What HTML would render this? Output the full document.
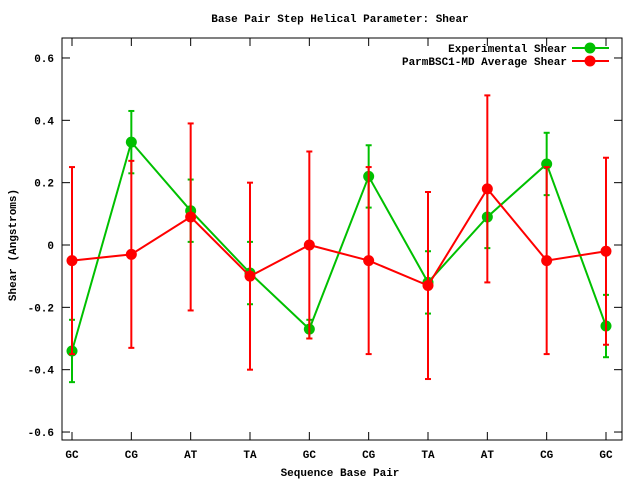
<!DOCTYPE html>
<html><head><meta charset="utf-8"><style>
body{margin:0;background:#fff}
svg text{font-family:"Liberation Mono",monospace;font-size:11px;font-weight:bold;fill:#000}
</style></head><body>
<svg id="chart" width="640" height="480">
<text x="340" y="22" text-anchor="middle">Base Pair Step Helical Parameter: Shear</text>
<text x="340" y="476" text-anchor="middle">Sequence Base Pair</text>
<text transform="translate(16,245) rotate(-90)" text-anchor="middle">Shear (Angstroms)</text>
<rect x="62" y="38" width="560" height="402" fill="none" stroke="#000"/>
<g id="axes"></g><g id="series"></g>
<g>
<text x="567" y="52" text-anchor="end">Experimental Shear</text>
<line x1="572" y1="48" x2="609" y2="48" stroke="#00c000" stroke-width="2"/>
<circle cx="590" cy="48" r="5.5" fill="#00c000"/>
<text x="567" y="65" text-anchor="end">ParmBSC1-MD Average Shear</text>
<line x1="572" y1="61" x2="609" y2="61" stroke="#ff0000" stroke-width="2"/>
<circle cx="590" cy="61" r="5.5" fill="#ff0000"/>
</g>
</svg>
<script>
const categories=["GC","CG","AT","TA","GC","CG","TA","AT","CG","GC"];
const expValues=[-0.34,0.33,0.11,-0.09,-0.27,0.22,-0.12,0.09,0.26,-0.26];
const expErr=[0.10,0.10,0.10,0.10,0.03,0.10,0.10,0.10,0.10,0.10];
const mdValues=[-0.05,-0.03,0.09,-0.10,0.00,-0.05,-0.13,0.18,-0.05,-0.02];
const mdErr=[0.30,0.30,0.30,0.30,0.30,0.30,0.30,0.30,0.30,0.30];
const yTicks=[-0.6,-0.4,-0.2,0,0.2,0.4,0.6];
const yTickLabels=["-0.6","-0.4","-0.2","0","0.2","0.4","0.6"];
const NS="http://www.w3.org/2000/svg";
function x(i){return 72+i*(606-72)/(categories.length-1);}
function y(v){return 245-v*311.7;}
function mk(tag,attrs,parent){const e=document.createElementNS(NS,tag);for(const k in attrs)e.setAttribute(k,attrs[k]);parent.appendChild(e);return e;}
const ax=document.getElementById('axes');
yTicks.forEach((t,i)=>{
 const l=mk('line',{x1:62,x2:70,y1:y(t),y2:y(t),stroke:'#000'},ax);
 
 
 const r=mk('line',{x1:614,x2:622,y1:y(t),y2:y(t),stroke:'#000'},ax);
 
 
 const tx=mk('text',{x:54,y:y(t)+4,'text-anchor':'end'},ax);tx.textContent=yTickLabels[i];
 
 
});
categories.forEach((c,i)=>{
 const b=mk('line',{x1:x(i),x2:x(i),y1:440,y2:432,stroke:'#000'},ax);
 
 
 const t=mk('line',{x1:x(i),x2:x(i),y1:38,y2:46,stroke:'#000'},ax);
 
 
 const tx=mk('text',{x:x(i),y:458,'text-anchor':'middle'},ax);tx.textContent=c;
 
 
});
const sg=document.getElementById('series');
function drawSeries(vals,errs,color,name){
 const g=mk('g',{},sg);
 
 
 vals.forEach((v,i)=>{
  const e=mk('line',{x1:x(i),x2:x(i),y1:y(v-errs[i]),y2:y(v+errs[i]),stroke:color,'stroke-width':2},g);
  
  
  [v-errs[i],v+errs[i]].forEach(w=>{
   const c=mk('line',{x1:x(i)-3,x2:x(i)+3,y1:y(w),y2:y(w),stroke:color,'stroke-width':2},g);
   
   
  });
 });
 const p=mk('polyline',{points:vals.map((v,i)=>x(i)+','+y(v)).join(' '),fill:'none',stroke:color,'stroke-width':2},g);
 
 
 vals.forEach((v,i)=>{
  const c=mk('circle',{cx:x(i),cy:y(v),r:5.5,fill:color},g);
  
  
 });
}
drawSeries(expValues,expErr,'#00c000','experimental');
drawSeries(mdValues,mdErr,'#ff0000','md');
</script>
</body></html>
